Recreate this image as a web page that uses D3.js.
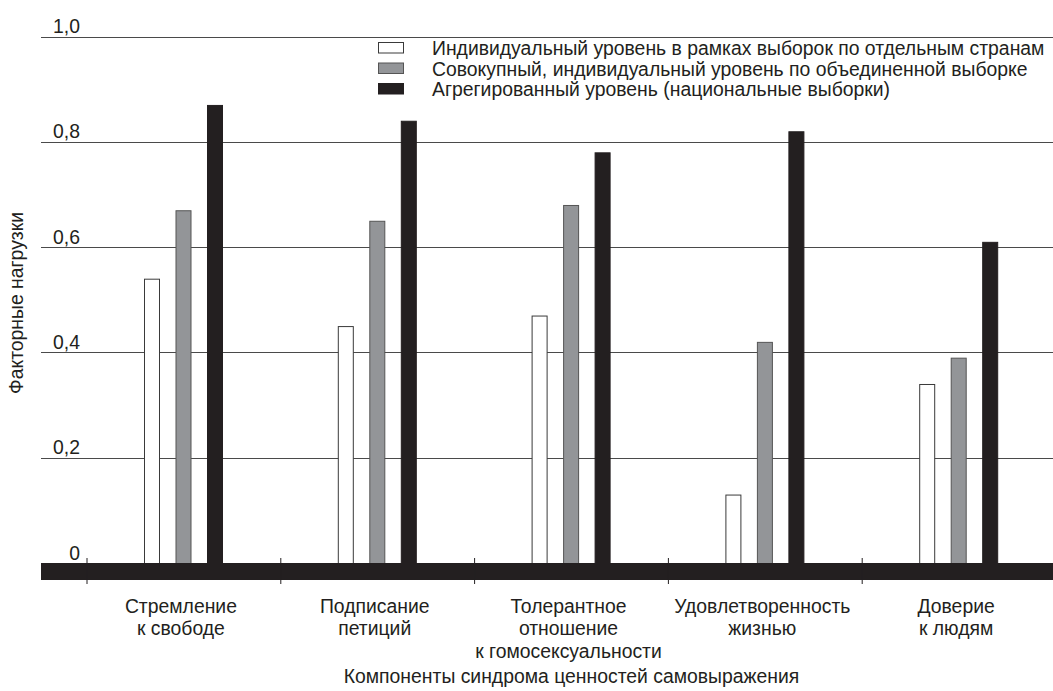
<!DOCTYPE html>
<html><head><meta charset="utf-8">
<script src="https://cdn.jsdelivr.net/npm/d3@7"></script>
<style>
html,body{margin:0;padding:0;background:#fff;}
svg text{font-family:"Liberation Sans Narrow","Liberation Sans",Arial,sans-serif;fill:#231f20;}
</style></head>
<body><svg id="c" width="1053" height="691"></svg>
<script>
const categories = [
  ["Стремление","к свободе"],
  ["Подписание","петиций"],
  ["Толерантное","отношение","к гомосексуальности"],
  ["Удовлетворенность","жизнью"],
  ["Доверие","к людям"]
];
const seriesNames = [
  "Индивидуальный уровень в рамках выборок по отдельным странам",
  "Совокупный, индивидуальный уровень по объединенной выборке",
  "Агрегированный уровень (национальные выборки)"
];
const individual = [0.54, 0.45, 0.47, 0.13, 0.34];
const pooled     = [0.67, 0.65, 0.68, 0.42, 0.39];
const aggregated = [0.87, 0.84, 0.78, 0.82, 0.61];
const yTicks = [0, 0.2, 0.4, 0.6, 0.8, 1.0];
const yTickLabels = ["0","0,2","0,4","0,6","0,8","1,0"];
const yTitle = "Факторные нагрузки";
const xTitle = "Компоненты синдрома ценностей самовыражения";

const fills = ["#ffffff","#939598","#231f20"];
const strokes = ["#3a3a3a","#555555","#231f20"];
const series = [individual, pooled, aggregated];
const FS = 21;

const svg = d3.select("#c");
const y = d3.scaleLinear().domain([0,1]).range([563,36.5]);
const catIdx = d3.range(categories.length);
const x0 = d3.scaleBand().domain(catIdx).range([87,1056]).paddingInner(0).paddingOuter(0);
const x1 = d3.scaleBand().domain([0,1,2]).range([57,136]).paddingInner(0.492).paddingOuter(0);

// condensation factor: measure the first legend line against its width in the reference
const probe = svg.append("text").attr("font-size",FS).text(seriesNames[0]);
const SX = 613 / probe.node().getComputedTextLength();
probe.remove();

function addText(x, yy, str, anchor, rot){
  const g = svg.append("g").attr("transform",
    `translate(${x},${yy})` + (rot ? ` rotate(${rot})` : "") + ` scale(${SX},1)`);
  g.append("text").attr("x",0).attr("y",0).attr("text-anchor",anchor||"start")
    .attr("font-size",FS).text(str);
  return g;
}

// gridlines
svg.append("g").selectAll("line").data(yTicks.slice(1)).join("line")
  .attr("x1",41).attr("x2",1053)
  .attr("y1",d=>Math.round(y(d))+0.5).attr("y2",d=>Math.round(y(d))+0.5)
  .attr("stroke","#4a4a4a").attr("stroke-width",1.2);

// tick labels
yTicks.forEach((d,i)=> addText(80, y(d)-3.5, yTickLabels[i], "end"));

// bars
const g = svg.append("g");
series.forEach((vals,s)=>{
  g.append("g").selectAll("rect").data(vals).join("rect")
    .attr("x",(d,i)=>x0(i)+x1(s)+0.5)
    .attr("width",x1.bandwidth()-1)
    .attr("y",d=>y(d)+0.5)
    .attr("height",d=>y(0)-y(d))
    .attr("fill",fills[s]).attr("stroke",strokes[s]).attr("stroke-width",1);
});

// baseline
svg.append("rect").attr("x",41).attr("y",y(0)).attr("width",1053-41).attr("height",17).attr("fill","#231f20");
// ticks
svg.append("g").selectAll("line").data(catIdx).join("line")
  .attr("x1",i=>x0(i)).attr("x2",i=>x0(i))
  .attr("y1",y(0)-5).attr("y2",y(0)+21)
  .attr("stroke","#231f20").attr("stroke-width",1);

// category labels
catIdx.forEach(i=>{
  categories[i].forEach((line,k)=>{
    addText(x0(i)+x0.bandwidth()/2-3, 613+k*22.3, line, "middle");
  });
});

// axis titles
const xr = x0.range();
addText((xr[0]+xr[1])/2, 683, xTitle, "middle");
addText(23, 303, yTitle, "middle", -90);

// legend
seriesNames.forEach((name,s)=>{
  const cy = 47.5 + s*20.5;
  svg.append("rect").attr("x",378.5).attr("y",cy-5).attr("width",25).attr("height",10.5)
    .attr("fill",fills[s]).attr("stroke",strokes[s]).attr("stroke-width",1);
  addText(432, cy+7.5, name, "start");
});
</script></body></html>
